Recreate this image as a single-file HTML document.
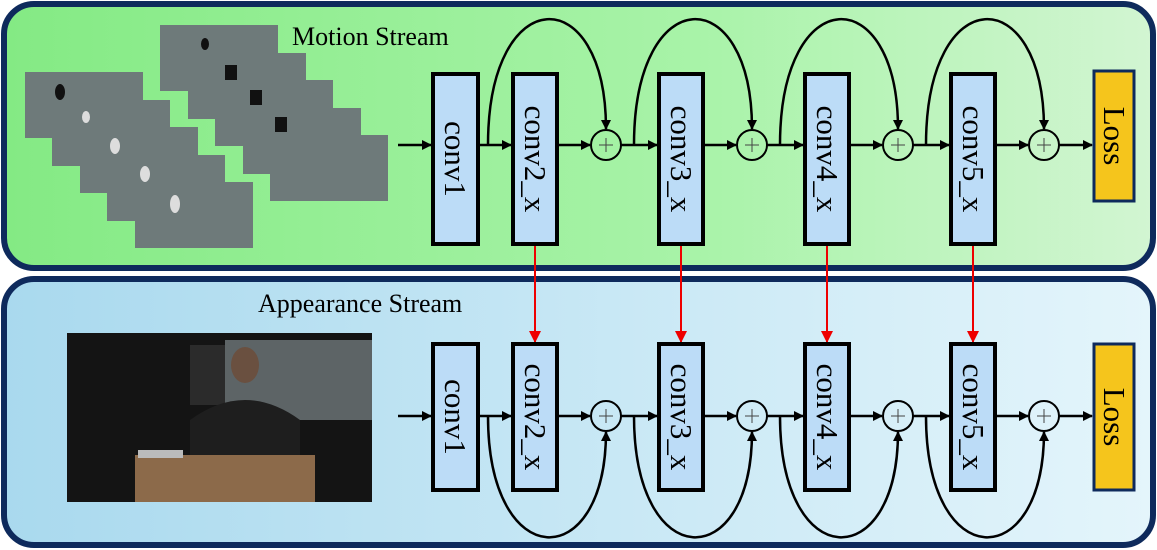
<!DOCTYPE html>
<html><head><meta charset="utf-8"><style>html,body{margin:0;padding:0;background:#fff}svg{display:block}</style></head><body>
<svg width="1157" height="550" viewBox="0 0 1157 550" xmlns="http://www.w3.org/2000/svg" font-family="Liberation Serif, serif">
<defs>
<linearGradient id="g1" x1="0" x2="1"><stop offset="0" stop-color="#84ea84"/><stop offset="0.6" stop-color="#a8f3a8"/><stop offset="1" stop-color="#d2f5d2"/></linearGradient>
<linearGradient id="g2" x1="0" x2="1"><stop offset="0" stop-color="#a9d9ee"/><stop offset="1" stop-color="#e4f5fb"/></linearGradient>
<marker id="a" markerWidth="10" markerHeight="10" refX="9" refY="5" orient="auto" markerUnits="userSpaceOnUse"><path d="M0,0 L10,5 L0,10z" fill="#000"/></marker>
<marker id="r" markerWidth="12" markerHeight="12" refX="11" refY="6" orient="auto" markerUnits="userSpaceOnUse"><path d="M0,0 L12,6 L0,12z" fill="#e00"/></marker>
</defs>
<rect x="4" y="4" width="1149" height="264" rx="30" fill="url(#g1)" stroke="#0e2a5c" stroke-width="6"/>
<rect x="4" y="279" width="1149" height="266" rx="30" fill="url(#g2)" stroke="#0e2a5c" stroke-width="6"/>
<text x="292" y="45" font-size="26">Motion Stream</text>
<text x="258" y="312" font-size="26">Appearance Stream</text>
<g fill="#6e7a7a">
<rect x="25" y="72" width="118" height="66"/><rect x="52" y="100" width="118" height="66"/><rect x="80" y="127" width="118" height="66"/><rect x="107" y="155" width="118" height="66"/><rect x="135" y="182" width="118" height="66"/>
<rect x="160" y="25" width="118" height="66"/><rect x="188" y="53" width="118" height="66"/><rect x="215" y="80" width="118" height="66"/><rect x="243" y="108" width="118" height="66"/><rect x="270" y="135" width="118" height="66"/>
</g>
<g fill="#ddd"><ellipse cx="86" cy="117" rx="4" ry="6"/><ellipse cx="115" cy="146" rx="5" ry="8"/><ellipse cx="145" cy="174" rx="5" ry="8"/><ellipse cx="175" cy="204" rx="5" ry="9"/></g>
<g fill="#111"><ellipse cx="60" cy="92" rx="5" ry="8"/><ellipse cx="205" cy="44" rx="4" ry="6"/><rect x="225" y="65" width="12" height="15"/><rect x="250" y="90" width="12" height="15"/><rect x="275" y="117" width="12" height="15"/></g>
<rect x="67" y="333" width="305" height="169" fill="#141414"/>
<rect x="225" y="340" width="147" height="80" fill="#5d6466"/>
<rect x="190" y="345" width="35" height="60" fill="#2b2b2b"/>
<ellipse cx="245" cy="365" rx="14" ry="18" fill="#6a5040"/>
<path d="M190,420 Q245,380 300,420 L300,460 L190,460z" fill="#1e1e1e"/>
<rect x="135" y="455" width="180" height="47" fill="#8c6a4a"/>
<rect x="138" y="450" width="45" height="8" fill="#bbb"/>
<g stroke="#000" stroke-width="2.5" fill="none" marker-end="url(#a)">
<line x1="398" y1="145" x2="431" y2="145"/><line x1="398" y1="416" x2="431" y2="416"/>
<line x1="478" y1="145" x2="511" y2="145"/><line x1="478" y1="416" x2="511" y2="416"/>
</g>
<g stroke="#000" stroke-width="2.5" fill="none">
<line x1="557" y1="145" x2="590" y2="145" marker-end="url(#a)"/>
<line x1="621" y1="145" x2="657" y2="145" marker-end="url(#a)"/>
<line x1="703" y1="145" x2="736" y2="145" marker-end="url(#a)"/>
<line x1="767" y1="145" x2="803" y2="145" marker-end="url(#a)"/>
<line x1="849" y1="145" x2="882" y2="145" marker-end="url(#a)"/>
<line x1="913" y1="145" x2="949" y2="145" marker-end="url(#a)"/>
<line x1="995" y1="145" x2="1028" y2="145" marker-end="url(#a)"/>
<line x1="1059" y1="145" x2="1092" y2="145" marker-end="url(#a)"/>
<path d="M488,145 C488,-20 606,-20 606,129" marker-end="url(#a)"/>
<path d="M634,145 C634,-20 752,-20 752,129" marker-end="url(#a)"/>
<path d="M780,145 C780,-20 898,-20 898,129" marker-end="url(#a)"/>
<path d="M926,145 C926,-20 1044,-20 1044,129" marker-end="url(#a)"/>
</g>
<g stroke="#000" stroke-width="2.5" fill="none">
<line x1="557" y1="416" x2="590" y2="416" marker-end="url(#a)"/>
<line x1="621" y1="416" x2="657" y2="416" marker-end="url(#a)"/>
<line x1="703" y1="416" x2="736" y2="416" marker-end="url(#a)"/>
<line x1="767" y1="416" x2="803" y2="416" marker-end="url(#a)"/>
<line x1="849" y1="416" x2="882" y2="416" marker-end="url(#a)"/>
<line x1="913" y1="416" x2="949" y2="416" marker-end="url(#a)"/>
<line x1="995" y1="416" x2="1028" y2="416" marker-end="url(#a)"/>
<line x1="1059" y1="416" x2="1092" y2="416" marker-end="url(#a)"/>
<path d="M488,416 C488,575 606,575 606,432" marker-end="url(#a)"/>
<path d="M634,416 C634,575 752,575 752,432" marker-end="url(#a)"/>
<path d="M780,416 C780,575 898,575 898,432" marker-end="url(#a)"/>
<path d="M926,416 C926,575 1044,575 1044,432" marker-end="url(#a)"/>
</g>
<g stroke="#e00" stroke-width="2" marker-end="url(#r)">
<line x1="535" y1="244" x2="535" y2="342"/><line x1="681" y1="244" x2="681" y2="342"/><line x1="827" y1="244" x2="827" y2="342"/><line x1="973" y1="244" x2="973" y2="342"/>
</g>
<g stroke="#000" stroke-width="2" fill="none">
<circle cx="606" cy="145" r="15"/><circle cx="752" cy="145" r="15"/><circle cx="898" cy="145" r="15"/><circle cx="1044" cy="145" r="15"/>
<circle cx="606" cy="416" r="15"/><circle cx="752" cy="416" r="15"/><circle cx="898" cy="416" r="15"/><circle cx="1044" cy="416" r="15"/>
</g>
<g stroke="#444" stroke-width="1">
<path d="M599,145h14M606,138v14M745,145h14M752,138v14M891,145h14M898,138v14M1037,145h14M1044,138v14"/>
<path d="M599,416h14M606,409v14M745,416h14M752,409v14M891,416h14M898,409v14M1037,416h14M1044,409v14"/>
</g>
<g fill="#bcdcf7" stroke="#000" stroke-width="4">
<rect x="433" y="74" width="45" height="170"/><rect x="513" y="74" width="44" height="170"/><rect x="659" y="74" width="44" height="170"/><rect x="805" y="74" width="44" height="170"/><rect x="951" y="74" width="44" height="170"/>
<rect x="433" y="344" width="45" height="146"/><rect x="513" y="344" width="44" height="146"/><rect x="659" y="344" width="44" height="146"/><rect x="805" y="344" width="44" height="146"/><rect x="951" y="344" width="44" height="146"/>
</g>
<g fill="#f5c51c" stroke="#0e2a5c" stroke-width="3"><rect x="1094" y="71" width="40" height="130"/><rect x="1094" y="344" width="40" height="146"/></g>
<g font-size="31" text-anchor="middle" fill="#000">
<text transform="translate(455,159) rotate(90)" dy="10">conv1</text>
<text transform="translate(535,159) rotate(90)" dy="10">conv2_x</text>
<text transform="translate(681,159) rotate(90)" dy="10">conv3_x</text>
<text transform="translate(827,159) rotate(90)" dy="10">conv4_x</text>
<text transform="translate(973,159) rotate(90)" dy="10">conv5_x</text>
<text transform="translate(1114,136) rotate(90)" dy="10">Loss</text>
<text transform="translate(455,417) rotate(90)" dy="10">conv1</text>
<text transform="translate(535,417) rotate(90)" dy="10">conv2_x</text>
<text transform="translate(681,417) rotate(90)" dy="10">conv3_x</text>
<text transform="translate(827,417) rotate(90)" dy="10">conv4_x</text>
<text transform="translate(973,417) rotate(90)" dy="10">conv5_x</text>
<text transform="translate(1114,417) rotate(90)" dy="10">Loss</text>
</g>
</svg>
</body></html>
